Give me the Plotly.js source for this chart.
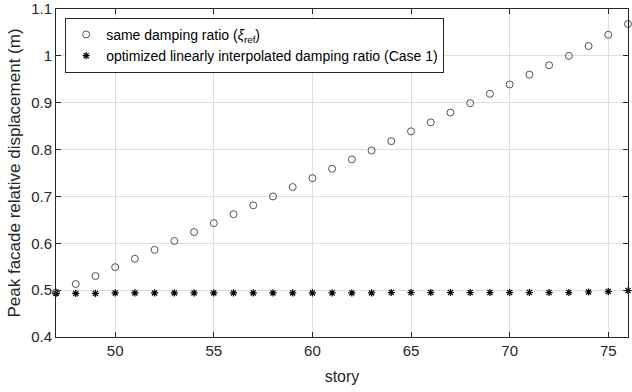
<!DOCTYPE html>
<html><head><meta charset="utf-8">
<script src="https://cdn.plot.ly/plotly-3.0.1.min.js"></script>
<style>html,body{margin:0;padding:0;background:#fff}#c{width:632px;height:392px}</style>
</head><body><div id="c"></div>
<script>
const stories = [47,48,49,50,51,52,53,54,55,56,57,58,59,60,61,62,63,64,65,66,67,68,69,70,71,72,73,74,75,76];
const sameRatio = [0.495,0.513,0.530,0.549,0.567,0.586,0.605,0.624,0.643,0.662,0.681,0.700,0.720,0.739,0.759,0.779,0.798,0.818,0.839,0.858,0.879,0.899,0.919,0.939,0.960,0.980,1.000,1.021,1.045,1.068];
const optimized = [0.493,0.493,0.493,0.494,0.494,0.494,0.494,0.494,0.494,0.494,0.494,0.494,0.494,0.494,0.494,0.494,0.494,0.495,0.495,0.495,0.495,0.495,0.495,0.495,0.495,0.495,0.495,0.496,0.497,0.499];
const xTicks = [50,55,60,65,70,75];
const yTicks = [0.4,0.5,0.6,0.7,0.8,0.9,1,1.1];
const legendNames = ['same damping ratio (<i>ξ</i><sub>ref</sub>)','optimized linearly interpolated damping ratio (Case 1)'];

const fam = '"Liberation Sans", Arial, sans-serif';
const font = {family:fam, size:15, color:'#262626'};
const traces = [
  {x:stories, y:sameRatio, mode:'markers', type:'scatter', name:legendNames[0],
   marker:{symbol:'circle-open', size:7, color:'#404040', line:{width:0.9, color:'#404040'}}, cliponaxis:false},
  {x:stories, y:optimized, mode:'markers', type:'scatter', name:legendNames[1],
   marker:{symbol:'asterisk-open', size:6, color:'#000', line:{width:1.2, color:'#000'}}, cliponaxis:false}
];
const axisCommon = {showline:true, linecolor:'#262626', linewidth:1, mirror:'ticks', ticks:'inside', ticklen:5, tickcolor:'#262626',
  showgrid:true, gridcolor:'#dedede', gridwidth:1, zeroline:false, tickfont:font};
const layout = {
  width:632, height:392, margin:{l:56, r:4, t:9, b:55},
  paper_bgcolor:'#fff', plot_bgcolor:'#fff', font:font, showlegend:true,
  xaxis:Object.assign({}, axisCommon, {range:[47,76], tickvals:xTicks, title:{text:'story', font:{family:fam, size:16, color:'#262626'}, standoff:12}}),
  yaxis:Object.assign({}, axisCommon, {range:[0.4,1.1], tickvals:yTicks, title:{text:'Peak facade relative displacement (m)', font:{family:fam, size:17, color:'#262626'}, standoff:6}}),
  legend:{x:0.016, y:0.973, xanchor:'left', yanchor:'top', bgcolor:'#fff', bordercolor:'#262626', borderwidth:1,
    font:{family:fam, size:14, color:'#000'}, tracegroupgap:0, itemwidth:30}
};
Plotly.newPlot('c', traces, layout, {displayModeBar:false, staticPlot:true});
</script></body></html>
